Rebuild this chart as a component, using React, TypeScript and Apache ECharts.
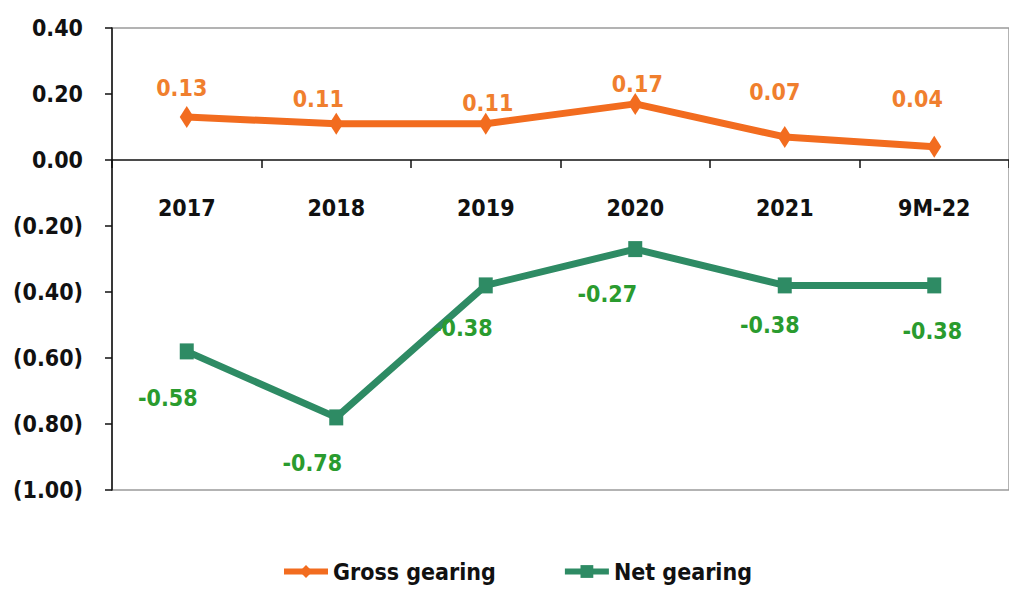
import React, { useEffect, useRef } from "react";
import * as echarts from "echarts";

const categories = ["2017", "2018", "2019", "2020", "2021", "9M-22"];
const grossGearing = [0.13, 0.11, 0.11, 0.17, 0.07, 0.04];
const netGearing = [-0.58, -0.78, -0.38, -0.27, -0.38, -0.38];
const yTicks = { min: -1, max: 0.4, interval: 0.2 };

const grossLabelOffsets = [[-5, 1], [-18, 6], [2, 10], [2, 11], [-10, -14], [-17, -17]];
const netLabelOffsets = [[-19, 21], [-24, 20], [-23, 17], [-28, 19], [-15, 14], [-2, 20]];

const FONT = "'DejaVu Sans Condensed', 'Liberation Sans Narrow', sans-serif";
const ORANGE = "#F26C1F";
const GREEN = "#2E8B64";

export default function App() {
  const ref = useRef<HTMLDivElement>(null);
  useEffect(() => {
    if (!ref.current) return;
    const chart = echarts.init(ref.current, null, { renderer: "svg" });
    const fmtY = (v: number) => {
      const r = Math.round(v * 100) / 100;
      if (r < 0) return `(${Math.abs(r).toFixed(2)})`;
      return r.toFixed(2);
    };
    chart.setOption({
      animation: false,
      backgroundColor: "#ffffff",
      grid: {
        left: 112,
        top: 28,
        width: 901,
        bottom: 99,
        show: true,
        borderColor: "#9a9a9a",
        borderWidth: 1.5,
      },
      xAxis: {
        type: "category",
        data: categories,
        boundaryGap: true,
        axisLine: { onZero: true, lineStyle: { color: "#111", width: 1.5 } },
        axisTick: { show: true, length: 8, lineStyle: { color: "#111", width: 1.5 } },
        axisLabel: {
          margin: -294,
          color: "#111",
          fontFamily: FONT,
          fontWeight: "bold",
          fontSize: 23,
        },
      },
      yAxis: {
        type: "value",
        min: yTicks.min,
        max: yTicks.max,
        interval: yTicks.interval,
        axisLine: { show: true, lineStyle: { color: "#111", width: 1.5 } },
        axisTick: { show: true, length: 7, lineStyle: { color: "#111", width: 1.5 } },
        splitLine: { show: false },
        axisLabel: {
          margin: 29,
          color: "#111",
          fontFamily: FONT,
          fontWeight: "bold",
          fontSize: 23,
          formatter: fmtY,
        },
      },
      legend: {
        left: 276,
        top: 555,
        itemWidth: 44,
        itemHeight: 16,
        itemGap: 66,
        lineStyle: { width: 6 },
        textStyle: {
          color: "#111",
          fontFamily: FONT,
          fontWeight: "bold",
          fontSize: 23,
        },
        data: ["Gross gearing", "Net gearing"],
      },
      series: [
        {
          name: "Gross gearing",
          type: "line",
          data: grossGearing.map((v, i) => ({
            value: v,
            label: { offset: grossLabelOffsets[i] },
          })),
          symbol: "diamond",
          symbolSize: [14, 22],
          lineStyle: { color: ORANGE, width: 7 },
          itemStyle: { color: ORANGE },
          label: {
            show: true,
            position: "top",
            distance: 8,
            color: "#F07F2E",
            fontFamily: FONT,
            fontWeight: "bold",
            fontSize: 23,
            formatter: (p: any) => p.value.toFixed(2),
          },
        },
        {
          name: "Net gearing",
          type: "line",
          data: netGearing.map((v, i) => ({
            value: v,
            label: { offset: netLabelOffsets[i] },
          })),
          symbol: "rect",
          symbolSize: [14, 16],
          lineStyle: { color: GREEN, width: 7 },
          itemStyle: { color: GREEN },
          label: {
            show: true,
            position: "bottom",
            distance: 6,
            color: "#2A9B2E",
            fontFamily: FONT,
            fontWeight: "bold",
            fontSize: 23,
            formatter: (p: any) => p.value.toFixed(2),
          },
        },
      ],
    });
    return () => chart.dispose();
  }, []);
  return (
    <div
      ref={ref}
      style={{ position: "fixed", left: 0, top: 0, width: 1009, height: 589 }}
    />
  );
}
